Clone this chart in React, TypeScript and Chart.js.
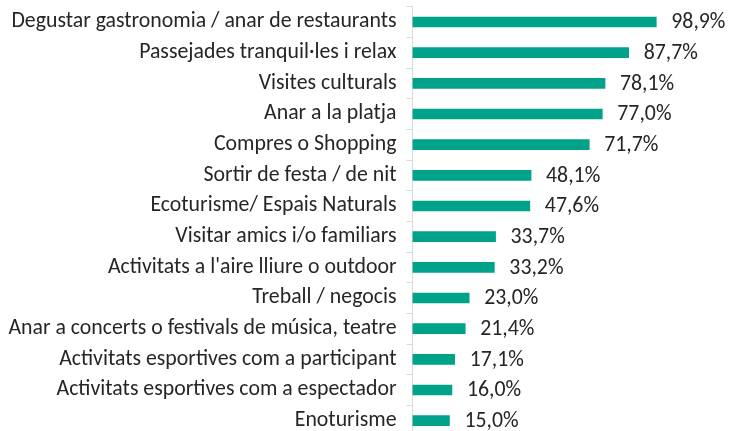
import React, { useEffect, useRef } from "react";
import { Chart, registerables } from "chart.js";

Chart.register(...registerables);

const categories = [
  "Degustar gastronomia / anar de restaurants",
  "Passejades tranquil·les i relax",
  "Visites culturals",
  "Anar a la platja",
  "Compres o Shopping",
  "Sortir de festa / de nit",
  "Ecoturisme/ Espais Naturals",
  "Visitar amics i/o familiars",
  "Activitats a l'aire lliure o outdoor",
  "Treball / negocis",
  "Anar a concerts o festivals de música, teatre",
  "Activitats esportives com a participant",
  "Activitats esportives com a espectador",
  "Enoturisme",
];

const values = [98.9, 87.7, 78.1, 77.0, 71.7, 48.1, 47.6, 33.7, 33.2, 23.0, 21.4, 17.1, 16.0, 15.0];

const FONT = 'Carlito, Calibri, "Open Sans", sans-serif';
const FONT_SIZE = 21.8;
const BAR_COLOR = "#00a389";
const TEXT_COLOR = "#262626";

const valueLabels = {
  id: "valueLabels",
  afterDatasetsDraw(chart: any) {
    const ctx = chart.ctx;
    const meta = chart.getDatasetMeta(0);
    ctx.save();
    ctx.font = `${FONT_SIZE}px ${FONT}`;
    ctx.fillStyle = TEXT_COLOR;
    ctx.textAlign = "left";
    ctx.textBaseline = "middle";
    meta.data.forEach((el: any, i: number) => {
      const txt = values[i].toFixed(1).replace(".", ",") + "%";
      ctx.fillText(txt, el.x + 15, el.y + 1);
    });
    ctx.restore();
  },
};

export default function App() {
  const ref = useRef<HTMLCanvasElement | null>(null);
  useEffect(() => {
    if (!ref.current) return;
    const chart = new Chart(ref.current, {
      type: "bar",
      data: {
        labels: categories,
        datasets: [
          {
            data: values,
            backgroundColor: BAR_COLOR,
            borderWidth: 0,
            barThickness: 10,
          },
        ],
      },
      options: {
        indexAxis: "y",
        animation: false,
        responsive: true,
        maintainAspectRatio: false,
        layout: { padding: { top: 6.7, right: 70, bottom: 0, left: 0 } },
        plugins: { legend: { display: false }, tooltip: { enabled: false } },
        scales: {
          x: { display: false, min: 0, max: 100 },
          y: {
            afterFit(scale: any) {
              scale.width = 412.5;
              scale.paddingTop = 0;
              scale.paddingBottom = 0;
            },
            grid: {
              display: true,
              drawOnChartArea: false,
              drawTicks: true,
              tickLength: 6,
              offset: true,
              color: "#d9d9d9",
            },
            border: { display: true, color: "#d9d9d9" },
            ticks: {
              padding: 10,
              color: TEXT_COLOR,
              font: { family: FONT, size: FONT_SIZE },
              autoSkip: false,
            },
          },
        },
      },
      plugins: [valueLabels],
    });
    return () => chart.destroy();
  }, []);
  return (
    <div style={{ position: "fixed", left: 0, top: 0, width: 729, height: 436 }}>
      <canvas ref={ref} />
    </div>
  );
}
